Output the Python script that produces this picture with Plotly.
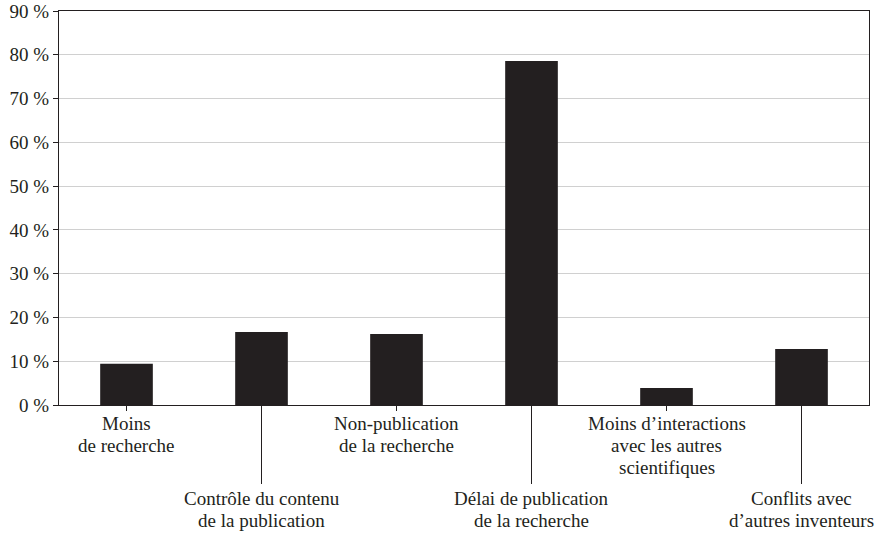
import plotly.graph_objects as go

categories = [
    ["Moins", "de recherche"],
    ["Contrôle du contenu", "de la publication"],
    ["Non-publication", "de la recherche"],
    ["Délai de publication", "de la recherche"],
    ["Moins d’interactions", "avec les autres", "scientifiques"],
    ["Conflits avec", "d’autres inventeurs"],
]
values = [9.4, 16.7, 16.2, 78.6, 3.9, 12.8]
y_ticks = [0, 10, 20, 30, 40, 50, 60, 70, 80, 90]

idx = list(range(len(categories)))
FONT = "Liberation Serif, Times New Roman, DejaVu Serif, serif"
INK = "#231f20"

fig = go.Figure()
fig.add_trace(go.Bar(x=idx, y=values, marker=dict(color=INK, line=dict(width=0)),
                     width=0.39, showlegend=False, hoverinfo="skip"))

upper = [i for i in idx if i % 2 == 0]
lower = [i for i in idx if i % 2 == 1]

SHORT, LONG = 5, 78
LINE_H = 22
annotations = []
for i, lines in enumerate(categories):
    first = 18 if i % 2 == 0 else 93
    for k, txt in enumerate(lines):
        annotations.append(dict(
            x=i, xref="x", y=0, yref="paper", yanchor="middle", xanchor="center",
            yshift=-(first + k * LINE_H), text=txt, showarrow=False,
            font=dict(family=FONT, size=19, color=INK),
        ))

fig.update_layout(
    width=875, height=535,
    margin=dict(l=59, r=6, t=11, b=130),
    paper_bgcolor="white", plot_bgcolor="white",
    font=dict(family=FONT, size=19, color=INK),
    annotations=annotations,
    xaxis=dict(
        range=[-0.5, 5.5], tickmode="array", automargin=False,
        tickvals=upper, showticklabels=False,
        ticks="outside", ticklen=SHORT, tickwidth=1, tickcolor=INK,
        showgrid=False, zeroline=False,
        showline=True, linecolor=INK, linewidth=1.2, mirror=True,
    ),
    xaxis2=dict(
        range=[-0.5, 5.5], overlaying="x", anchor="y", side="bottom",
        tickmode="array", automargin=False,
        tickvals=lower, showticklabels=False,
        ticks="outside", ticklen=LONG, tickwidth=1, tickcolor=INK,
        showgrid=False, zeroline=False, showline=False,
    ),
    yaxis=dict(
        range=[0, 90], tickmode="array", tickvals=y_ticks, automargin=False,
        ticktext=[f"{v} %" for v in y_ticks],
        ticks="outside", ticklen=5, tickwidth=1, tickcolor=INK,
        showgrid=True, gridcolor="#d0d0d0", gridwidth=1,
        zeroline=False,
        showline=True, linecolor=INK, linewidth=1.2, mirror=True,
        tickfont=dict(family=FONT, size=19, color=INK),
    ),
)
# invisible trace to activate xaxis2
fig.add_trace(go.Scatter(x=[lower[0]], y=[0], xaxis="x2", yaxis="y", mode="markers",
                         marker=dict(opacity=0), showlegend=False, hoverinfo="skip"))

fig.write_html("out.html", config={"displayModeBar": False},
               post_script="document.body.style.margin='0';")
